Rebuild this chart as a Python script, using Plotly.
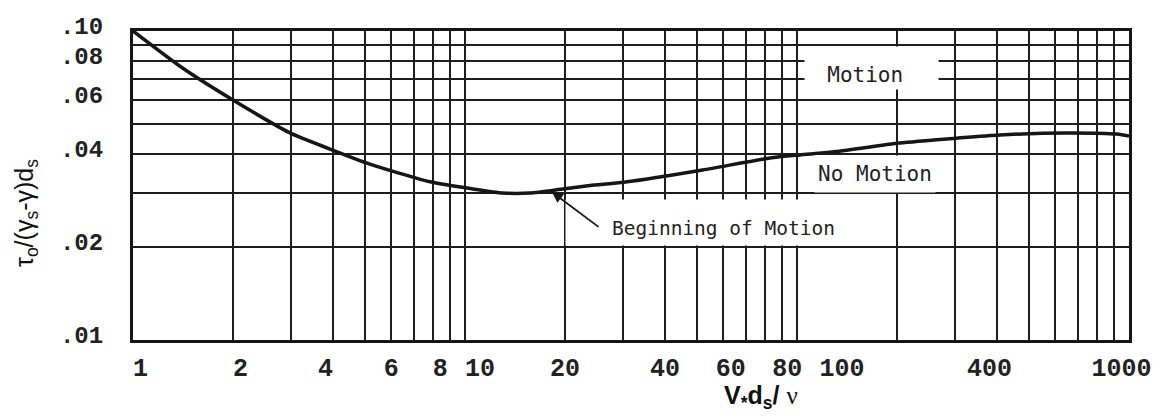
import numpy as np
import plotly.graph_objects as go

# ---- data (Shields curve) ----
re_vals = [1.0, 1.41, 2.0, 2.97, 3.92, 5.17, 7.85, 10.6, 13.0, 15.7, 19.7, 23.8,
           30.8, 52.0, 83.0, 102.0, 128.0, 204.0, 303.0, 409.0, 651.0, 920.0, 1000.0]
tau_vals = [0.100, 0.0759, 0.0598, 0.0468, 0.0415, 0.0371, 0.0325, 0.0308, 0.0299,
            0.0299, 0.0308, 0.0316, 0.0325, 0.0355, 0.0388, 0.0397, 0.0406, 0.0434,
            0.0450, 0.0461, 0.0468, 0.0464, 0.0457]

x_grid = [1, 2, 3, 4, 5, 6, 7, 8, 9,
          10, 20, 30, 40, 50, 60, 70, 80, 90,
          100, 200, 300, 400, 500, 600, 700, 800, 900, 1000]
x_text = ["1", "2", "", "4", "", "6", "", "8", "",
          "10", "20", "", "40", "", "60", "", "80", "",
          "100", "", "", "400", "", "", "", "", "", "1000"]

y_grid = [0.01, 0.02, 0.03, 0.04, 0.05, 0.06, 0.07, 0.08, 0.09, 0.10]
y_text = [".01", ".02", "", ".04", "", ".06", "", ".08", "", ".10"]

label_motion = "Motion"
label_no_motion = "No Motion"
label_beginning = "Beginning of Motion"

# ---- styling: how far each printed x label sits off its grid line on the
#      original, in half monospace characters (+ = right) ----
label_nudge = {"1": 1, "2": 1, "4": -1, "8": 1, "10": 2, "60": 1,
               "80": 3, "100": 6, "400": -1, "1000": -1}
NBSP = "\u00a0"


def nudged(t):
    n = label_nudge.get(t, 0)
    return NBSP * n + t if n > 0 else t + NBSP * (-n)


x_text_disp = [nudged(t) if t else t for t in x_text]

# ---- layout helpers (pixel -> paper) ----
W, H = 1157, 419
L, R, T, B = 133, 28, 31, 79
PW, PH = W - L - R, H - T - B


def px(x):
    return (x - L) / PW


def py(y):
    return (H - B - y) / PH


INK = "#161616"
GRID = "#1e1e1e"
x_tick_font = dict(family="Liberation Mono, Courier New, monospace", size=25,
                   color="#222222", weight="bold")
y_tick_font = dict(family="Liberation Mono, Courier New, monospace", size=24,
                   color="#222222", weight="bold")
big_label_font = dict(family="DejaVu Sans Mono, monospace", size=21, color="#222222")
small_label_font = dict(family="DejaVu Sans Mono, monospace", size=19.5, color="#222222")

fig = go.Figure()
fig.add_trace(go.Scatter(
    x=re_vals, y=tau_vals, mode="lines",
    line=dict(color=INK, width=3.5, shape="spline", smoothing=0.6),
    hoverinfo="skip", showlegend=False,
))

fig.update_xaxes(
    type="log", range=[np.log10(x_grid[0]), np.log10(x_grid[-1])],
    tickmode="array", tickvals=x_grid, ticktext=x_text_disp, tickangle=0,
    showgrid=True, gridcolor=GRID, gridwidth=2,
    showline=True, linecolor=INK, linewidth=3, mirror=True,
    ticks="", ticklabelstandoff=3, tickfont=x_tick_font, zeroline=False,
    automargin=False, ticklabeloverflow="allow",
)
fig.update_yaxes(
    type="log", range=[np.log10(y_grid[0]), np.log10(y_grid[-1])],
    tickmode="array", tickvals=y_grid, ticktext=y_text,
    showgrid=True, gridcolor=GRID, gridwidth=2,
    showline=True, linecolor=INK, linewidth=3, mirror=True,
    ticks="", ticklabelstandoff=22, ticklabelshift=-5, tickfont=y_tick_font,
    zeroline=False, automargin=False, ticklabeloverflow="allow",
)

annotations = [
    # region labels with white boxes masking the grid behind them
    dict(x=px(871.5), y=py(68.5), xref="paper", yref="paper",
         text=label_motion + NBSP,
         showarrow=False, font=big_label_font, bgcolor="white", width=129, height=38,
         borderpad=2, xanchor="center", yanchor="middle", valign="bottom"),
    dict(x=px(875), y=py(174), xref="paper", yref="paper", text=label_no_motion,
         showarrow=False, font=big_label_font, bgcolor="white", width=116, height=32,
         borderpad=2, xanchor="center", yanchor="middle"),
    dict(x=px(703), y=py(222.5), xref="paper", yref="paper", text=label_beginning,
         showarrow=False, font=small_label_font, bgcolor="white", width=264, height=35,
         borderpad=5, align="right", valign="bottom",
         xanchor="center", yanchor="middle"),
    # leader arrow to the curve
    dict(x=px(552), y=py(192), xref="paper", yref="paper", text="",
         showarrow=True, ax=48, ay=36, arrowhead=2, arrowsize=1.2,
         arrowwidth=1.8, arrowcolor=INK),
    # axis titles
    dict(x=px(26), y=py(213), xref="paper", yref="paper",
         text="τ<sub>o</sub>/(γ<sub>s</sub>-γ)d<sub>s</sub>",
         textangle=-90, showarrow=False, xanchor="center", yanchor="middle",
         font=dict(family="Liberation Sans, Arial, sans-serif", size=25, color="#111111")),
    dict(x=px(761), y=py(397), xref="paper", yref="paper",
         text="<b>V<sub>*</sub>d<sub>s</sub>/</b> "
              "<span style='font-family:Liberation Serif, Times New Roman, serif'>ν</span>",
         showarrow=False, xanchor="center", yanchor="middle",
         font=dict(family="Liberation Sans, Arial, sans-serif", size=25, color="#111111")),
]

fig.update_layout(
    width=W, height=H,
    margin=dict(l=L, r=R, t=T, b=B, pad=0, autoexpand=False),
    paper_bgcolor="white", plot_bgcolor="white",
    annotations=annotations, showlegend=False,
)

fig.write_html(
    "out.html",
    config={"displayModeBar": False},
    post_script="document.body.style.margin='0';document.body.style.padding='0';"
                "document.documentElement.style.margin='0';",
)
